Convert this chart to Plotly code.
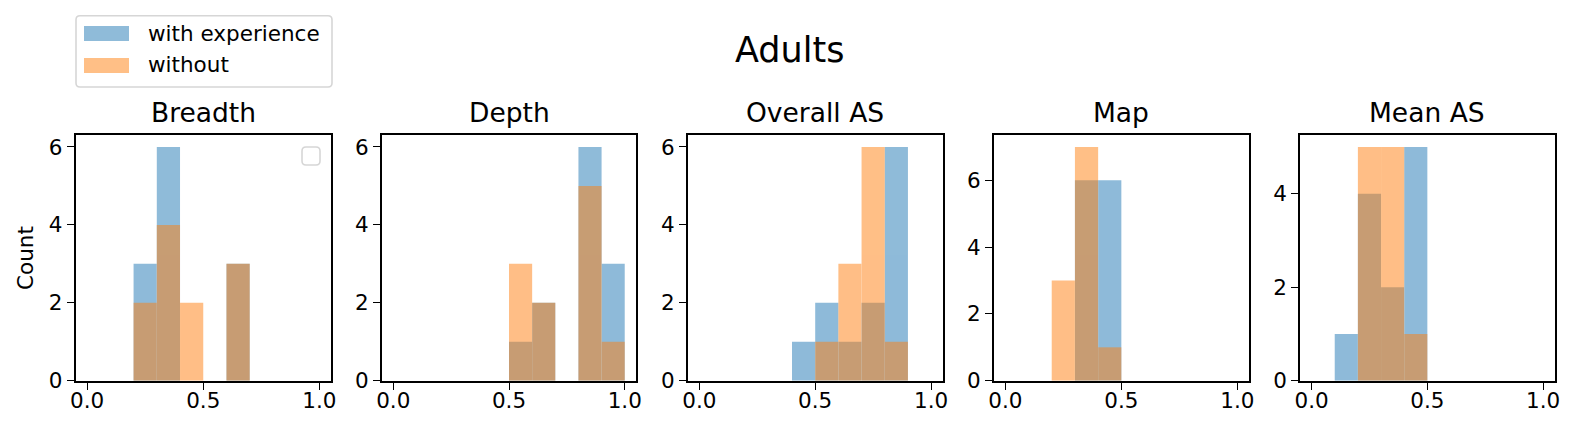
import plotly.graph_objects as go

W, H = 1577, 434

# ---- data ----
bin_left = [0.0, 0.1, 0.2, 0.3, 0.4, 0.5, 0.6, 0.7, 0.8, 0.9]
bin_width = 0.1
panels = ["Breadth", "Depth", "Overall AS", "Map", "Mean AS"]
with_exp = {
    "Breadth":    [0, 0, 3, 6, 0, 0, 3, 0, 0, 0],
    "Depth":      [0, 0, 0, 0, 0, 1, 2, 0, 6, 3],
    "Overall AS": [0, 0, 0, 0, 1, 2, 1, 2, 6, 0],
    "Map":        [0, 0, 0, 6, 6, 0, 0, 0, 0, 0],
    "Mean AS":    [0, 1, 4, 2, 5, 0, 0, 0, 0, 0],
}
without = {
    "Breadth":    [0, 0, 2, 4, 2, 0, 3, 0, 0, 0],
    "Depth":      [0, 0, 0, 0, 0, 3, 2, 0, 5, 1],
    "Overall AS": [0, 0, 0, 0, 0, 1, 3, 6, 1, 0],
    "Map":        [0, 0, 3, 7, 1, 0, 0, 0, 0, 0],
    "Mean AS":    [0, 0, 5, 5, 1, 0, 0, 0, 0, 0],
}
series_names = ["with experience", "without"]
series_colors = ["#1f77b4", "#ff7f0e"]
x_tickvals = [0.0, 0.5, 1.0]
x_ticktext = ["0.0", "0.5", "1.0"]
y_tickvals = [0, 2, 4, 6]
title = "Adults"
ylabel = "Count"

# ---- layout geometry (pixels) ----
ax_left = [75.5, 381.7, 687.7, 993.7, 1300.0]
ax_right = [331.0, 636.3, 942.7, 1249.0, 1554.7]
ax_top, ax_bottom = 135.3, 380.7

def px(x):
    return x / W

def py(y):
    return 1 - y / H

FONT = "DejaVu Sans"
TICK = 21.5
fig = go.Figure()
layout = dict(
    template="none",
    width=W, height=H, autosize=False,
    margin=dict(l=0, r=0, t=0, b=0, pad=0),
    paper_bgcolor="white", plot_bgcolor="white",
    barmode="overlay", showlegend=False,
    font=dict(family=FONT, size=TICK, color="black"),
)
annotations = []
shapes = []

for i, name in enumerate(panels):
    xa = "x" if i == 0 else f"x{i+1}"
    ya = "y" if i == 0 else f"y{i+1}"
    for sname, color, data in zip(series_names, series_colors, [with_exp[name], without[name]]):
        fig.add_trace(go.Bar(
            x=bin_left, y=data, width=bin_width, offset=0,
            marker=dict(color=color, line=dict(width=0)),
            opacity=0.5, name=sname, xaxis=xa, yaxis=ya,
        ))
    ymax = max(max(with_exp[name]), max(without[name])) * 1.05
    axis_common = dict(
        showline=True, linecolor="black", linewidth=1.6, mirror=True,
        ticks="outside", ticklen=7, tickwidth=1.4, tickcolor="black",
        showgrid=False, zeroline=False, automargin=False,
        tickfont=dict(family=FONT, size=TICK, color="black"),
    )
    layout["xaxis" if i == 0 else f"xaxis{i+1}"] = dict(
        domain=[px(ax_left[i]), px(ax_right[i])], anchor=ya,
        range=[-0.05, 1.05], tickvals=x_tickvals, ticktext=x_ticktext,
        ticklabelstandoff=-7,
        **axis_common,
    )
    layout["yaxis" if i == 0 else f"yaxis{i+1}"] = dict(
        domain=[py(ax_bottom), py(ax_top)], anchor=xa,
        range=[0, ymax], tickvals=[v for v in y_tickvals if v <= ymax],
        **axis_common,
    )
    annotations.append(dict(
        text=name, x=px((ax_left[i] + ax_right[i]) / 2), y=py(113),
        xref="paper", yref="paper", xanchor="center", yanchor="middle",
        showarrow=False, font=dict(family=FONT, size=26.5, color="black"),
    ))

# suptitle
annotations.append(dict(
    text=title, x=px(789), y=py(50), xref="paper", yref="paper",
    xanchor="center", yanchor="middle", showarrow=False,
    font=dict(family=FONT, size=35, color="black"),
))
# y label
annotations.append(dict(
    text=ylabel, x=px(25), y=py((ax_top + ax_bottom) / 2), xref="paper", yref="paper",
    xanchor="center", yanchor="middle", showarrow=False, textangle=-90,
    font=dict(family=FONT, size=TICK, color="black"),
))

def rounded_rect(x0, y0, x1, y1, r):
    pts = [
        ("M", [(x0 + r, y0)]),
        ("L", [(x1 - r, y0)]),
        ("Q", [(x1, y0), (x1, y0 + r)]),
        ("L", [(x1, y1 - r)]),
        ("Q", [(x1, y1), (x1 - r, y1)]),
        ("L", [(x0 + r, y1)]),
        ("Q", [(x0, y1), (x0, y1 - r)]),
        ("L", [(x0, y0 + r)]),
        ("Q", [(x0, y0), (x0 + r, y0)]),
    ]
    s = ""
    for cmd, ps in pts:
        s += cmd + " " + " ".join(f"{px(a):.6f},{py(b):.6f}" for a, b in ps) + " "
    return s + "Z"

# figure legend (matplotlib style)
shapes.append(dict(type="path", xref="paper", yref="paper",
                   path=rounded_rect(76, 15.7, 332, 87, 4),
                   line=dict(color="#d6d6d6", width=1.6), fillcolor="white", layer="above"))
legend_rows = [(26, 41), (58, 73)]
for (t, b), sname, color in zip(legend_rows, series_names, series_colors):
    shapes.append(dict(type="rect", xref="paper", yref="paper",
                       x0=px(84), x1=px(129), y0=py(b), y1=py(t),
                       fillcolor=color, opacity=0.5, line=dict(width=0), layer="above"))
    annotations.append(dict(
        text=sname, x=px(146), y=py((t + b) / 2 - 0.5), xref="paper", yref="paper",
        xanchor="left", yanchor="middle", showarrow=False,
        font=dict(family=FONT, size=TICK, color="black"),
    ))

# empty axes legend in first panel
shapes.append(dict(type="path", xref="paper", yref="paper",
                   path=rounded_rect(302, 147, 320, 165, 4),
                   line=dict(color="#d6d6d6", width=1.6), fillcolor="white", layer="above"))

layout["annotations"] = annotations
layout["shapes"] = shapes
fig.update_layout(**layout)
fig.write_html(
    "out.html",
    config={"displayModeBar": False},
    post_script="document.body.style.margin='0';document.body.style.overflow='hidden';document.documentElement.style.overflow='hidden';",
)
